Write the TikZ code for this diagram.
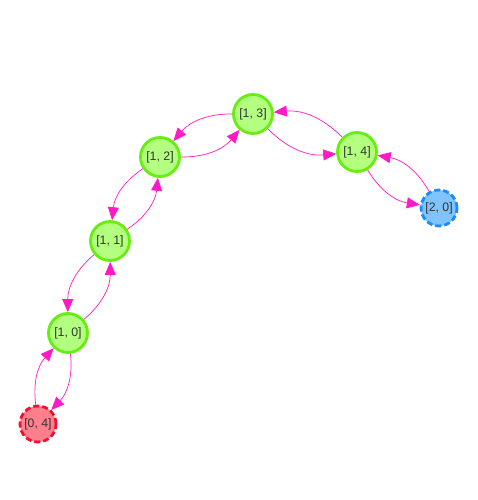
\documentclass[tikz,border=0pt]{standalone}
\usepackage{fontspec}
\setmainfont{Liberation Sans}
\usetikzlibrary{arrows.meta}
\definecolor{edgec}{HTML}{FF1AC6}
\definecolor{gfill}{HTML}{B3FF80}
\definecolor{gdraw}{HTML}{66EE11}
\definecolor{rfill}{HTML}{FF7F8C}
\definecolor{rdraw}{HTML}{EE1133}
\definecolor{bfill}{HTML}{80C4FF}
\definecolor{bdraw}{HTML}{1A8CFF}
\definecolor{txt}{HTML}{333333}
\begin{document}
\begin{tikzpicture}[x=1pt,y=-1pt,
  vnode/.style={circle,minimum size=39pt,inner sep=0pt,line width=2.8pt,text=txt,font=\fontsize{12.3}{13}\selectfont},
  gnode/.style={vnode,fill=gfill,draw=gdraw},
  rnode/.style={vnode,fill=rfill,draw=rdraw,dash pattern=on 6pt off 3pt,minimum size=36pt},
  bnode/.style={vnode,fill=bfill,draw=bdraw,dash pattern=on 6pt off 3pt,minimum size=36pt},
  edge/.style={draw=edgec,line width=0.7pt,-{Triangle[length=13pt,width=11pt,fill=edgec]}}]
\useasboundingbox (0,0) rectangle (478,500);
\node[rnode] (n04) at (38,424) {[0, 4]};
\node[gnode] (n10) at (68,333) {[1, 0]};
\node[gnode] (n11) at (110,241) {[1, 1]};
\node[gnode] (n12) at (160,157) {[1, 2]};
\node[gnode] (n13) at (253,114) {[1, 3]};
\node[gnode] (n14) at (357,152) {[1, 4]};
\node[bnode] (n20) at (439,208) {[2, 0]};
\draw[edge] (n04) to[bend left=25] (n10);
\draw[edge] (n10) to[bend left=25] (n04);
\draw[edge] (n10) to[bend right=25] (n11);
\draw[edge] (n11) to[bend right=25] (n10);
\draw[edge] (n11) to[bend right=25] (n12);
\draw[edge] (n12) to[bend right=25] (n11);
\draw[edge] (n12) to[bend right=25] (n13);
\draw[edge] (n13) to[bend right=25] (n12);
\draw[edge] (n13) to[bend right=25] (n14);
\draw[edge] (n14) to[bend right=25] (n13);
\draw[edge] (n14) to[bend right=25] (n20);
\draw[edge] (n20) to[bend right=25] (n14);
\end{tikzpicture}
\end{document}
